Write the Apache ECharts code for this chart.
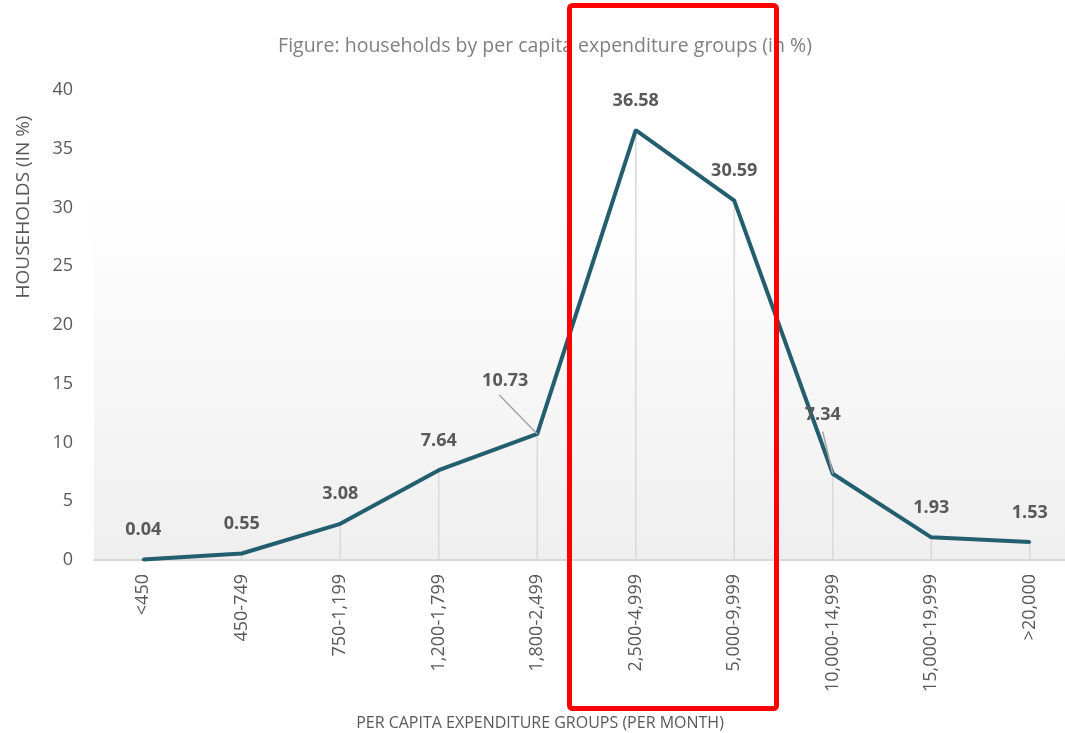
<!DOCTYPE html>
<html>
<head>
<meta charset="utf-8">
<script src="https://cdn.jsdelivr.net/npm/echarts@6/dist/echarts.min.js"></script>
<style>
  html, body { margin: 0; padding: 0; background: #fff; overflow: hidden; }
  /* a bit wider than the window: the plot runs past the right edge */
  #chart { width: 1085px; height: 733px; }
</style>
</head>
<body>
<div id="chart"></div>
<script>
const categories = ['<450', '450-749', '750-1,199', '1,200-1,799', '1,800-2,499',
  '2,500-4,999', '5,000-9,999', '10,000-14,999', '15,000-19,999', '>20,000']
const households = [0.04, 0.55, 3.08, 7.64, 10.73, 36.58, 30.59, 7.34, 1.93, 1.53]
const yTicks = [0, 5, 10, 15, 20, 25, 30, 35, 40]

// labels pulled off their point (label offset, and leader line end relative to the point)
const movedLabels = {
  4: { dx: -32, dy: -24, lx: -38, ly: -39 },
  7: { dx: -10, dy: -29, lx: -10, ly: -42 }
}

const font = 'Open Sans'
const grey = '#595959'

const chart = echarts.init(document.getElementById('chart'))

chart.setOption({
  animation: false,
  textStyle: { fontFamily: font },
  title: {
    text: 'Figure: households by per capita expenditure groups (in %)',
    left: 540,
    top: 31,
    textAlign: 'center',
    textStyle: { fontFamily: font, fontSize: 19.5, fontWeight: 'normal', color: '#808080' }
  },
  grid: {
    left: 94,
    top: 90,
    width: 985,
    bottom: 173,
    show: true,
    borderWidth: 0,
    backgroundColor: {
      type: 'linear', x: 0, y: 0, x2: 0, y2: 1,
      colorStops: [
        { offset: 0, color: '#ffffff' },
        { offset: 0.2, color: '#ffffff' },
        { offset: 1, color: '#efefef' }
      ]
    }
  },
  xAxis: {
    type: 'category',
    data: categories,
    boundaryGap: true,
    axisLine: { lineStyle: { color: '#d9d9d9', width: 2 } },
    axisTick: { show: false },
    axisLabel: { rotate: 90, margin: 14, fontSize: 18, color: grey, fontFamily: font }
  },
  yAxis: {
    type: 'value',
    min: yTicks[0],
    max: yTicks[yTicks.length - 1],
    interval: 5,
    axisLine: { show: false },
    axisTick: { show: false },
    splitLine: { show: false },
    axisLabel: { margin: 21, fontSize: 18, color: grey, fontFamily: font }
  },
  series: [
    {
      // drop lines from each point to the axis
      type: 'bar',
      data: households,
      barWidth: 1.5,
      itemStyle: { color: '#d9d9d9' },
      silent: true,
      z: 1
    },
    {
      id: 'main',
      type: 'line',
      data: households,
      symbol: 'circle',
      symbolSize: 3,
      lineStyle: { color: '#225e6e', width: 4 },
      itemStyle: { color: '#225e6e' },
      label: {
        show: true,
        position: 'top',
        distance: 19,
        fontSize: 18,
        fontWeight: 'bold',
        color: grey,
        fontFamily: font
      },
      labelLayout: p => {
        const m = movedLabels[p.dataIndex]
        return m ? { dx: m.dx, dy: m.dy } : {}
      },
      z: 3
    }
  ],
  graphic: [
    {
      type: 'text',
      x: 24,
      y: 207,
      rotation: Math.PI / 2,
      style: {
        text: 'HOUSEHOLDS (IN %)', fontSize: 19, fill: grey, fontFamily: font,
        align: 'center', verticalAlign: 'middle'
      }
    },
    {
      type: 'text',
      x: 540,
      y: 723,
      style: {
        text: 'PER CAPITA EXPENDITURE GROUPS (PER MONTH)', fontSize: 16, fill: grey, fontFamily: font,
        align: 'center', verticalAlign: 'middle'
      }
    },
    {
      type: 'rect',
      shape: { x: 569.5, y: 5.5, width: 207, height: 703, r: 3 },
      style: { fill: 'none', stroke: '#ff0000', lineWidth: 5 },
      z: 100
    }
  ]
})

// leader lines from the moved labels back to their points
const leaders = Object.keys(movedLabels).map(k => {
  const i = +k
  const m = movedLabels[i]
  const [px, py] = chart.convertToPixel({ seriesId: 'main' }, [i, households[i]])
  return [{ x: px, y: py }, { x: px + m.lx, y: py + m.ly }]
})

chart.setOption({
  series: [{}, {
    id: 'main',
    markLine: {
      silent: true,
      symbol: 'none',
      label: { show: false },
      lineStyle: { color: '#a6a6a6', width: 1.5, type: 'solid' },
      data: leaders
    }
  }]
})
</script>
</body>
</html>
